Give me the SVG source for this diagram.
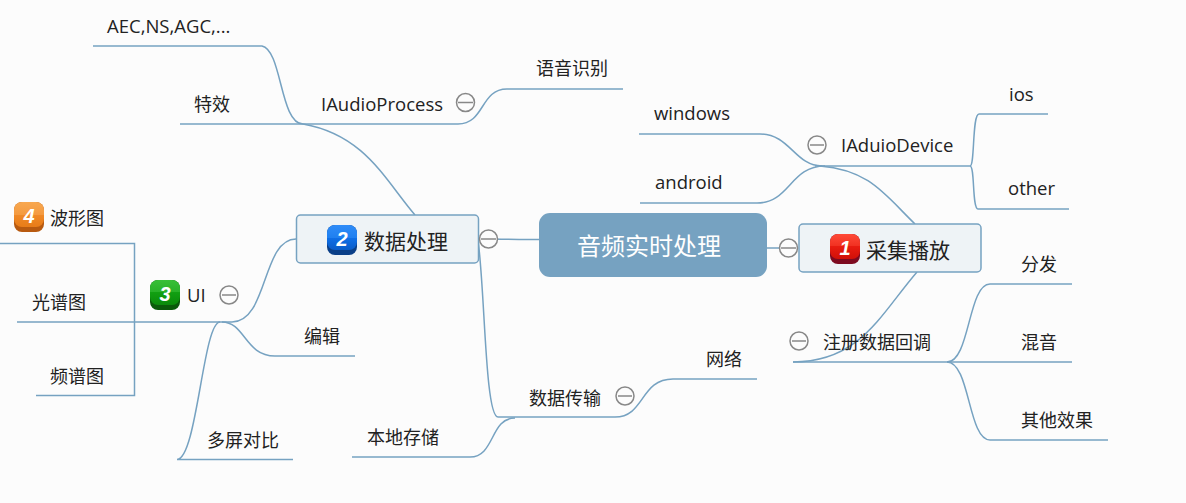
<svg xmlns="http://www.w3.org/2000/svg" width="1186" height="503" viewBox="0 0 1186 503">
<style>
.c{fill:none;stroke:#76a2c1;stroke-width:1.5}
.t{font-family:"Noto Sans CJK SC",sans-serif;font-size:18px;fill:#222}
.l{font-family:"Open Sans",sans-serif;font-size:18.500px;fill:#222}
.m{font-size:21px}
.b{fill:#eef3f6;stroke:#76a2c1;stroke-width:1.5}
.cc{fill:#fcfcfc;stroke:#888;stroke-width:1.5}
.cl{stroke:#888;stroke-width:1.5}
.n{font-family:"Liberation Sans",sans-serif;font-size:20px;font-style:italic;font-weight:bold;fill:#fff;text-anchor:middle}
</style>
<defs>
<linearGradient id="r" x1="0" y1="0" x2="0" y2="1"><stop offset="0" stop-color="#ff4a38"/><stop offset=".5" stop-color="#f03020"/><stop offset=".5" stop-color="#e81c10"/><stop offset="1" stop-color="#d01008"/></linearGradient>
<linearGradient id="u" x1="0" y1="0" x2="0" y2="1"><stop offset="0" stop-color="#2f8cf8"/><stop offset=".5" stop-color="#2080f0"/><stop offset=".5" stop-color="#1070e8"/><stop offset="1" stop-color="#0a5cc8"/></linearGradient>
<linearGradient id="g" x1="0" y1="0" x2="0" y2="1"><stop offset="0" stop-color="#38c038"/><stop offset=".5" stop-color="#28b028"/><stop offset=".5" stop-color="#12a012"/><stop offset="1" stop-color="#0a8a0a"/></linearGradient>
<linearGradient id="o" x1="0" y1="0" x2="0" y2="1"><stop offset="0" stop-color="#f8a850"/><stop offset=".5" stop-color="#f49a40"/><stop offset=".5" stop-color="#f08a28"/><stop offset="1" stop-color="#e87c18"/></linearGradient>
</defs>
<rect width="1186" height="503" fill="#fcfcfc"/>
<g id="connectors">
<path class="c" d="M489 239C505 239 520 240 539 239.500"/>
<path class="c" d="M767 248H789"/>
<path class="c" d="M478 240C485 290 485 417 498 417"/>
<path class="c" d="M296 239C262 239 268 322 232 322"/>
<path class="c" d="M415 215C385 180 365 135 303 124"/>
<path class="c" d="M180 124H458C485 124 480 89 507 89H623"/>
<path class="c" d="M303 124C280 124 282 50 262 46H93"/>
<path class="c" d="M915 224C885 195 870 170 820 166"/>
<path class="c" d="M815 166H970C975 166 972 114 979 114H1048"/>
<path class="c" d="M970 166C975 166 972 209 978 209H1069"/>
<path class="c" d="M822 166C795 166 790 134 760 134H639"/>
<path class="c" d="M825 166C790 166 790 203 757 203H640"/>
<path class="c" d="M917 272C880 315 860 362 793 362"/>
<path class="c" d="M793 362H1072"/>
<path class="c" d="M947 362C970 362 968 284 990 284H1072"/>
<path class="c" d="M947 362C970 362 968 440 990 440H1108"/>
<path class="c" d="M17 322H232"/>
<path class="c" d="M0 243.500H134.500V395.500H36"/>
<path class="c" d="M222 322C245 322 245 356 275 356H355"/>
<path class="c" d="M220 322C203 322 197 459 177 459.500H293"/>
<path class="c" d="M498 417H615C645 417 640 379 673 379H757"/>
<path class="c" d="M515 418C490 418 495 457 470 457H352"/>
</g>
<g id="root"><rect x="539" y="213" width="228" height="64" rx="11" fill="#76a2c1"/><text x="649" y="255" text-anchor="middle" font-family="Noto Sans CJK SC,sans-serif" font-size="24" fill="#fff">音频实时处理</text></g>
<g id="n1"><rect class="b" x="799" y="224" width="182" height="48" rx="4"/>
<rect x="830" y="234" width="30" height="30" rx="8" fill="#7d0a20"/><rect x="830" y="234" width="30" height="25" rx="8" fill="url(#r)"/><text class="n" x="845" y="255">1</text>
<text class="t m" x="866" y="258">采集播放</text></g>
<g id="n1c"><circle class="cc" cx="788.500" cy="248" r="9"/><path class="cl" d="M781 248H796"/></g>
<g id="n2"><rect class="b" x="296.500" y="215" width="182" height="48" rx="4"/>
<rect x="327" y="225" width="30" height="30" rx="8" fill="#0a3f88"/><rect x="327" y="225" width="30" height="25" rx="8" fill="url(#u)"/><text class="n" x="342" y="246">2</text>
<text class="t m" x="364" y="249">数据处理</text></g>
<g id="n2c"><circle class="cc" cx="488.500" cy="239" r="9"/><path class="cl" d="M481 239H496"/></g>
<g id="n3"><rect x="150" y="280" width="30" height="30" rx="8" fill="#0a5a0a"/><rect x="150" y="280" width="30" height="25" rx="8" fill="url(#g)"/><text class="n" x="165" y="301">3</text>
<text class="l" x="187" y="302">UI</text><circle class="cc" cx="229" cy="295" r="9"/><path class="cl" d="M222 295H236"/></g>
<g id="n4"><rect x="14" y="202" width="30" height="30" rx="8" fill="#b85a10"/><rect x="14" y="202" width="30" height="25" rx="8" fill="url(#o)"/><text class="n" x="29" y="223">4</text>
<text class="t" x="50" y="225">波形图</text></g>
<g id="n5"><text class="l" x="107" y="33">AEC,NS,AGC,...</text></g>
<g id="n6"><text class="t" x="194" y="111">特效</text></g>
<g id="n7"><text class="l" x="321" y="111">IAudioProcess</text><circle class="cc" cx="465.500" cy="102.500" r="9"/><path class="cl" d="M458 102.500H473"/></g>
<g id="n8"><text class="t" x="536" y="75">语音识别</text></g>
<g id="n9"><text class="l" x="654" y="120">windows</text></g>
<g id="n10"><text class="l" x="655" y="189">android</text></g>
<g id="n11"><circle class="cc" cx="817" cy="145" r="9"/><path class="cl" d="M810 145H824"/><text class="l" x="841" y="152">IAduioDevice</text></g>
<g id="n12"><text class="l" x="1009" y="101">ios</text></g>
<g id="n13"><text class="l" x="1008" y="195">other</text></g>
<g id="n14"><text class="t" x="1021" y="271">分发</text></g>
<g id="n15"><circle class="cc" cx="799" cy="341" r="9"/><path class="cl" d="M792 341H806"/><text class="t" x="823" y="349">注册数据回调</text></g>
<g id="n16"><text class="t" x="1021" y="349">混音</text></g>
<g id="n17"><text class="t" x="1021" y="427">其他效果</text></g>
<g id="n18"><text class="t" x="706" y="366">网络</text></g>
<g id="n19"><text class="t" x="529" y="405">数据传输</text><circle class="cc" cx="625" cy="396" r="9"/><path class="cl" d="M618 396H632"/></g>
<g id="n20"><text class="t" x="367" y="444">本地存储</text></g>
<g id="n21"><text class="t" x="207" y="447">多屏对比</text></g>
<g id="n22"><text class="t" x="304" y="343">编辑</text></g>
<g id="n23"><text class="t" x="32" y="309">光谱图</text></g>
<g id="n24"><text class="t" x="50" y="383">频谱图</text></g>
</svg>
